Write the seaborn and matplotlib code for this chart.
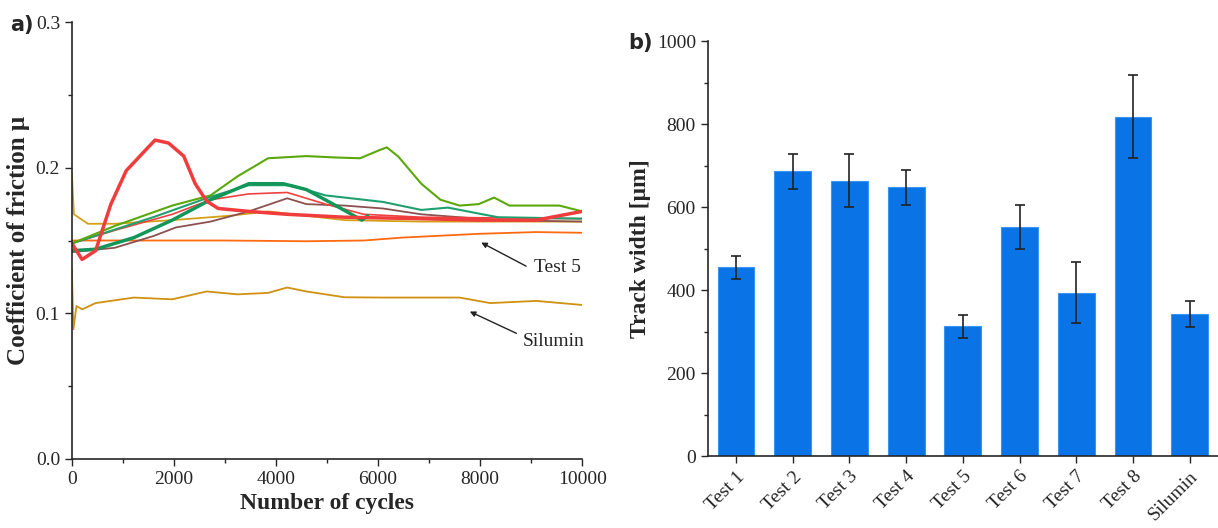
import numpy as np
import pandas as pd
import seaborn as sns
from matplotlib import pyplot as plt
from matplotlib.ticker import MultipleLocator

sns.set_style('ticks')
plt.rcParams['font.family'] = ['Liberation Serif', 'DejaVu Serif']

# --- panel a) friction curves (points read off the picture) ---
red_x = [0, 200, 465, 765, 1066, 1441, 1630, 1892, 2192, 2417, 2643, 2868, 3468, 4219, 5345, 6847, 7973, 9099, 10000]
red_y = [0.148, 0.137, 0.143, 0.175, 0.198, 0.212, 0.219, 0.217, 0.208, 0.189, 0.177, 0.172, 0.170, 0.168, 0.166, 0.165, 0.164, 0.164, 0.170]

lgreen_x = [0, 841, 1967, 2718, 3243, 3844, 4595, 5195, 5646, 6021, 6171, 6396, 6847, 7222, 7598, 7973, 8273, 8574, 9099, 9550, 10000]
lgreen_y = [0.148, 0.160, 0.174, 0.181, 0.194, 0.2065, 0.208, 0.207, 0.2065, 0.212, 0.214, 0.2077, 0.189, 0.178, 0.174, 0.175, 0.1795, 0.174, 0.174, 0.174, 0.170]

dgreen_x = [0, 465, 1216, 1967, 2718, 3468, 4144, 4595, 5120, 5683, 5796]
dgreen_y = [0.143, 0.144, 0.152, 0.164, 0.178, 0.189, 0.189, 0.185, 0.175, 0.164, 0.167]

teal_x = [0, 1592, 2718, 3468, 4294, 4970, 6096, 6847, 7372, 7973, 8348, 10000]
teal_y = [0.148, 0.166, 0.180, 0.188, 0.188, 0.181, 0.1765, 0.171, 0.1726, 0.1685, 0.166, 0.165]

brown_x = [0, 841, 1592, 2042, 2718, 3468, 4219, 4595, 5345, 6096, 6847, 8348, 10000]
brown_y = [0.142, 0.145, 0.153, 0.159, 0.163, 0.170, 0.179, 0.175, 0.174, 0.172, 0.168, 0.164, 0.163]

red2_x = [0, 841, 1967, 2718, 3468, 4219, 4970, 5721, 6847, 10000]
red2_y = [0.148, 0.157, 0.168, 0.178, 0.182, 0.183, 0.175, 0.168, 0.166, 0.165]

gold_x = [0, 40, 315, 841, 1967, 3093, 3844, 4595, 5345, 6847, 10000]
gold_y = [0.196, 0.168, 0.1615, 0.1615, 0.164, 0.167, 0.170, 0.167, 0.164, 0.163, 0.163]

test5_x = [0, 1500, 3000, 4595, 5721, 6471, 7973, 9099, 10000]
test5_y = [0.150, 0.150, 0.150, 0.1495, 0.150, 0.152, 0.1546, 0.1558, 0.1553]

silumin_x = [0, 30, 90, 203, 465, 1216, 1967, 2643, 3243, 3844, 4219, 4595, 5345, 6096, 7598, 8198, 9099, 10000]
silumin_y = [0.130, 0.089, 0.105, 0.1027, 0.107, 0.1108, 0.1096, 0.115, 0.113, 0.114, 0.1177, 0.115, 0.111, 0.1108, 0.1108, 0.107, 0.1085, 0.1057]

# --- panel b) track width ---
tests = ['Test 1', 'Test 2', 'Test 3', 'Test 4', 'Test 5', 'Test 6', 'Test 7', 'Test 8', 'Silumin']
width = [455, 687, 664, 648, 313, 553, 394, 818, 342]
width_err = [27, 42, 63, 42, 28, 53, 73, 100, 31]

fig = plt.figure(figsize=(12.18, 5.28), dpi=100)
ax1 = fig.add_axes([0.059, 0.131, 0.419, 0.827])
ax2 = fig.add_axes([0.581, 0.136, 0.419, 0.786])

curves = [
    (gold_x, gold_y, '#d4a017', 1.3),
    (test5_x, test5_y, '#ff6a10', 1.3),
    (silumin_x, silumin_y, '#d09010', 1.3),
    (brown_x, brown_y, '#8c5050', 1.3),
    (red2_x, red2_y, '#f04040', 1.2),
    (teal_x, teal_y, '#20a070', 1.5),
    (lgreen_x, lgreen_y, '#5aa80a', 1.5),
    (dgreen_x, dgreen_y, '#12975a', 2.5),
    (red_x, red_y, '#f03c3c', 2.5),
]
for xs, ys, c, lw in curves:
    sns.lineplot(x=xs, y=ys, ax=ax1, color=c, lw=lw, sort=False, estimator=None)

ax1.set_xlim(0, 10000)
ax1.set_ylim(0, 0.3)
ax1.xaxis.set_major_locator(MultipleLocator(2000))
ax1.xaxis.set_minor_locator(MultipleLocator(1000))
ax1.yaxis.set_major_locator(MultipleLocator(0.1))
ax1.yaxis.set_minor_locator(MultipleLocator(0.05))
ax1.yaxis.set_major_formatter(plt.FuncFormatter(lambda v, p: f'{v:.1f}'))
ax1.set_xlabel('Number of cycles', fontsize=17, fontweight='bold')
ax1.set_ylabel('Coefficient of friction \u03bc', fontsize=18, fontweight='bold')

ax1.annotate('', xy=(7973, 0.1495), xytext=(8949, 0.1315),
             arrowprops=dict(arrowstyle='-|>', color='#222222', lw=1, mutation_scale=8))
ax1.text(9512, 0.1315, 'Test 5', fontsize=14, ha='center', va='center')
ax1.annotate('', xy=(7748, 0.102), xytext=(8761, 0.0854),
             arrowprops=dict(arrowstyle='-|>', color='#222222', lw=1, mutation_scale=8))
ax1.text(9437, 0.0808, 'Silumin', fontsize=14, ha='center', va='center')

df = pd.DataFrame({'test': tests, 'width': width})
sns.barplot(data=df, x='test', y='width', ax=ax2, color='#0a74e6', width=0.65,
            saturation=1, errorbar=None, edgecolor='#3a95f0', linewidth=0.8)
ax2.errorbar(x=np.arange(len(tests)), y=width, yerr=width_err, fmt='none',
             ecolor='#222222', elinewidth=1.2, capsize=3.5, capthick=1.2)
ax2.set_xlim(-0.5, len(tests) - 0.5)
ax2.set_ylim(0, 1000)
ax2.yaxis.set_major_locator(MultipleLocator(200))
ax2.yaxis.set_minor_locator(MultipleLocator(100))
ax2.set_xlabel('')
ax2.set_ylabel('Track width [\u03bcm]', fontsize=17, fontweight='bold')
ax2.tick_params(axis='x', rotation=45)
for lbl in ax2.get_xticklabels():
    lbl.set_ha('right')
    lbl.set_rotation_mode('anchor')

for ax in (ax1, ax2):
    sns.despine(ax=ax)
    ax.tick_params(which='both', direction='out', labelsize=14, width=1)
    ax.tick_params(which='major', length=5)
    ax.tick_params(which='minor', length=3)
    for s in ('left', 'bottom'):
        ax.spines[s].set_linewidth(1.2)

fig.text(0.008, 0.952, 'a)', fontsize=15, fontweight='bold', family='DejaVu Sans', va='center')
fig.text(0.516, 0.918, 'b)', fontsize=15, fontweight='bold', family='DejaVu Sans', va='center')

fig.savefig('out.png', dpi=100)
